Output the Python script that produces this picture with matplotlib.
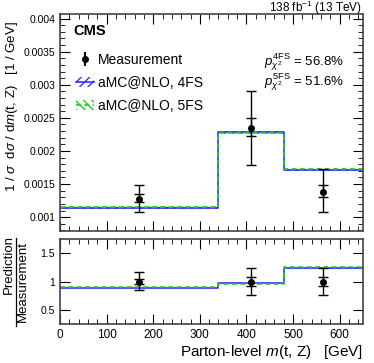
import numpy as np
import matplotlib
matplotlib.use("Agg")
import matplotlib.pyplot as plt
from matplotlib.patches import Patch
from matplotlib.lines import Line2D
from matplotlib.ticker import MultipleLocator

plt.rcParams['font.family'] = ['Liberation Sans', 'DejaVu Sans']
plt.rcParams['mathtext.fontset'] = 'custom'
plt.rcParams['mathtext.rm'] = 'Liberation Sans'
plt.rcParams['mathtext.it'] = 'Liberation Sans:italic'
plt.rcParams['mathtext.bf'] = 'Liberation Sans:bold'

# bins in m(t,Z) [GeV]
edges = [0, 340, 480, 650]
centers = [170, 410, 565]

# normalized cross section [1/GeV]
meas = [0.001277, 0.00234, 0.001387]
tot_up = [0.00149, 0.00291, 0.00173]
tot_dn = [0.00108, 0.00179, 0.00107]
stat_up = [0.00135, 0.00250, 0.00149]
stat_dn = [0.00123, 0.00222, 0.00130]

pred4 = [0.00114, 0.00228, 0.001714]
pred5 = [0.00115, 0.00227, 0.00173]
unc4 = [0.000012, 0.00002, 0.000015]
unc5 = [0.000012, 0.00002, 0.000015]

# ratio prediction / measurement
ratio4 = [0.895, 0.972, 1.235]
ratio5 = [0.900, 0.965, 1.245]
r_meas = [1.0, 1.0, 1.0]
r_tot_up = [1.16, 1.24, 1.24]
r_tot_dn = [0.85, 0.77, 0.77]
r_stat_up = [1.05, 1.07, 1.07]
r_stat_dn = [0.95, 0.93, 0.93]

W, H = 374, 363
fig = plt.figure(figsize=(W / 100, H / 100), dpi=100)
ax1 = fig.add_axes([0.1604, 0.3636, 0.8102, 0.5978])
ax2 = fig.add_axes([0.1604, 0.1074, 0.8102, 0.2342])

blue = '#3333ff'
green = '#22cc22'


def step_vals(v):
    return list(v) + [v[-1]]


def draw_pred(ax, vals, unc, color, ls, hatch):
    lo = [a - b for a, b in zip(vals, unc)]
    hi = [a + b for a, b in zip(vals, unc)]
    ax.fill_between(edges, step_vals(lo), step_vals(hi), step='post',
                    facecolor='none', edgecolor=color, hatch=hatch, lw=0)
    ax.step(edges, step_vals(vals), where='post', color=color, ls=ls, lw=1.2)


def draw_meas(ax, y, tu, td, su, sd):
    y = np.array(y)
    ax.errorbar(centers, y, yerr=[y - np.array(td), np.array(tu) - y], fmt='none',
                ecolor='black', elinewidth=1, capsize=3.3, capthick=1)
    ax.errorbar(centers, y, yerr=[y - np.array(sd), np.array(su) - y], fmt='o',
                color='black', ms=4, elinewidth=1, capsize=3.3, capthick=1)


draw_pred(ax1, pred4, unc4, blue, '-', '////')
draw_pred(ax1, pred5, unc5, green, (0, (3, 2)), '\\\\\\\\')
draw_meas(ax1, meas, tot_up, tot_dn, stat_up, stat_dn)

draw_pred(ax2, ratio4, [0.01] * 3, blue, '-', '////')
draw_pred(ax2, ratio5, [0.01] * 3, green, (0, (3, 2)), '\\\\\\\\')
draw_meas(ax2, r_meas, r_tot_up, r_tot_dn, r_stat_up, r_stat_dn)

ax1.set_xlim(0, 650)
ax1.set_ylim(0.00079, 0.00407)
ax2.set_xlim(0, 650)
ax2.set_ylim(0.26, 1.74)

for ax in (ax1, ax2):
    ax.tick_params(which='both', direction='in', top=True, right=True)
    ax.tick_params(axis='y', labelsize=7.5)
    ax.tick_params(axis='x', labelsize=8.5)
    ax.tick_params(which='major', length=7)
    ax.tick_params(which='minor', length=3.5)
    ax.xaxis.set_major_locator(MultipleLocator(100))
    ax.xaxis.set_minor_locator(MultipleLocator(20))
    for s in ax.spines.values():
        s.set_linewidth(1.2)
        s.set_color('#444444')

ax1.yaxis.set_minor_locator(MultipleLocator(0.0001))
ax1.set_yticks([0.001, 0.0015, 0.002, 0.0025, 0.003, 0.0035, 0.004])
ax1.set_yticklabels(['0.001', '0.0015', '0.002', '0.0025', '0.003', '0.0035', '0.004'])
ax1.tick_params(labelbottom=False)
ax2.yaxis.set_minor_locator(MultipleLocator(0.5))
ax2.set_yticks([0.5, 1, 1.5])
ax2.set_yticklabels(['0.5', '1', '1.5'])

ax2.set_xlabel(r'Parton-level $m$(t, Z)   [GeV]', fontsize=11, loc='right')
ax2.xaxis.set_label_coords(1.0, -0.22)

# y title of the upper panel
fig.text(12 / W, 1 - 107 / H, r'1 / $\sigma$  d$\sigma$ / d$m$(t, Z)   [1 / GeV]',
         rotation=90, fontsize=9.5, ha='center', va='center')

# ratio axis title drawn as a fraction
fig.text(8.5 / W, 1 - 264 / H, 'Prediction', rotation=90, fontsize=9.5, ha='center', va='center')
fig.text(22.5 / W, 1 - 282 / H, 'Measurement', rotation=90, fontsize=9.5, ha='center', va='center')
fig.add_artist(Line2D([15.5 / W, 15.5 / W], [1 - 238 / H, 1 - 326 / H], color='black', lw=0.9))

fig.text(73 / W, 1 - 31 / H, 'CMS', fontsize=10.5, fontweight='bold', va='center')
fig.text(362 / W, 1 - 12 / H, r'138 fb$^{-1}$ (13 TeV)', fontsize=8.5, ha='right', va='baseline')
fig.text(344 / W, 1 - 62 / H, r'$p^{\mathrm{4FS}}_{\chi^2}$ = 56.8%', fontsize=9.5, ha='right', va='center')
fig.text(344 / W, 1 - 82 / H, r'$p^{\mathrm{5FS}}_{\chi^2}$ = 51.6%', fontsize=9.5, ha='right', va='center')

h_meas = ax1.errorbar([], [], yerr=[], fmt='o', color='black', ms=4, capsize=2)
h4 = (Patch(facecolor='none', edgecolor=blue, hatch='////', lw=0), Line2D([], [], color=blue, lw=1.2))
h5 = (Patch(facecolor='none', edgecolor=green, hatch='\\\\\\\\', lw=0), Line2D([], [], color=green, lw=1.2, ls=(0, (3, 2))))
fig.legend([h_meas, h4, h5], ['Measurement', 'aMC@NLO, 4FS', 'aMC@NLO, 5FS'],
           loc='upper left', bbox_to_anchor=(76 / W, 1 - 53 / H), frameon=False, fontsize=10,
           handlelength=1.3, handletextpad=0.25, labelspacing=0.65, borderaxespad=0, borderpad=0)

fig.savefig('out.png', dpi=100)
